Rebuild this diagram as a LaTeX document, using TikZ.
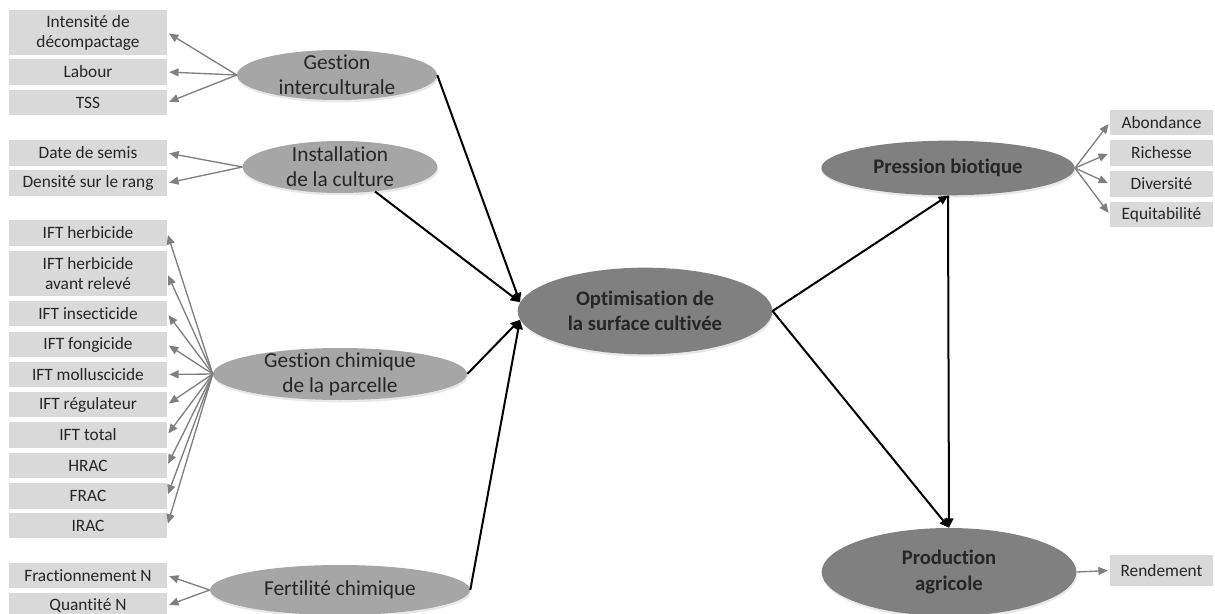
\documentclass[tikz,border=0pt]{standalone}
\usepackage{fontspec}
\setmainfont{Carlito}[Ligatures=NoCommon]
\usetikzlibrary{shapes.geometric,arrows.meta,shadows}
\definecolor{cBox}{HTML}{D9D9D9}
\definecolor{cEllLight}{HTML}{A6A6A6}
\definecolor{cEllDark}{HTML}{808080}
\definecolor{cArr}{HTML}{7F7F7F}
\definecolor{cTxt}{HTML}{262626}
\begin{document}
\begin{tikzpicture}[x=0.75pt,y=-0.75pt,
  lbox/.style={fill=cBox, minimum width=118.5pt, minimum height=19pt, inner sep=0pt,
    font=\fontsize{13}{15}\selectfont, text=cTxt, align=center},
  lboxtall/.style={lbox, minimum height=33.75pt},
  rbox/.style={lbox, minimum width=77.25pt},
  ellbase/.style={ellipse, inner sep=0pt, draw=none,
    drop shadow={shadow xshift=0.6pt, shadow yshift=-1.8pt, opacity=0.18}},
  elllight/.style={ellbase, fill=cEllLight},
  elldark/.style={ellbase, fill=cEllDark},
  ltext/.style={font=\fontsize{16}{18.75}\selectfont, text=cTxt, align=center, inner sep=0pt},
  rtext/.style={font=\bfseries\fontsize{15.5}{19}\selectfont, text=cTxt, align=center, inner sep=0pt},
  garrow/.style={draw=cArr, line width=1pt, -{Triangle[length=7pt,width=6pt]}, shorten >=1.5pt},
  barrow/.style={draw=black, line width=1.5pt, -{Triangle[length=7pt,width=6.5pt]}}
]
\useasboundingbox (0,0) rectangle (1215,614);

% left boxes
\node[lboxtall] (b1) at (88,32.5) {Intensité de\\décompactage};
\node[lbox] (b2) at (88,72) {Labour};
\node[lbox] (b3) at (88,102.5) {TSS};
\node[lbox] (b4) at (88,153) {Date de semis};
\node[lbox] (b5) at (88,183) {Densité sur le rang};
\node[lbox] (b6) at (88,233) {IFT herbicide};
\node[lboxtall] (b7) at (88,273.5) {IFT herbicide\\avant relevé};
\node[lbox] (b8) at (88,313.5) {IFT insecticide};
\node[lbox] (b9) at (88,344.5) {IFT fongicide};
\node[lbox] (b10) at (88,374.5) {IFT molluscicide};
\node[lbox] (b11) at (88,404.5) {IFT régulateur};
\node[lbox] (b12) at (88,435) {IFT total};
\node[lbox] (b13) at (88,465.5) {HRAC};
\node[lbox] (b14) at (88,496) {FRAC};
\node[lbox] (b15) at (88,525.5) {IRAC};
\node[lbox] (b16) at (88,575.5) {Fractionnement N};
\node[lbox] (b17) at (88,605.5) {Quantité N};

% right boxes
\node[rbox] (r1) at (1161.5,122.5) {Abondance};
\node[rbox] (r2) at (1161.5,153) {Richesse};
\node[rbox] (r3) at (1161.5,184) {Diversité};
\node[rbox] (r4) at (1161.5,214.5) {Equitabilité};
\node[rbox, minimum height=23pt] (r5) at (1161.5,570.5) {Rendement};

% ellipses
\node[elllight, minimum width=150pt, minimum height=37.5pt] (gi) at (337,75) {};
\node[ltext] (gi-t) at (337,75) {Gestion\\interculturale};
\node[elllight, minimum width=146pt, minimum height=39pt] (ic) at (340,167) {};
\node[ltext] (ic-t) at (340,167) {Installation\\de la culture};
\node[elllight, minimum width=190.5pt, minimum height=39pt] (gc) at (340,374) {};
\node[ltext] (gc-t) at (340,374) {Gestion chimique\\de la parcelle};
\node[elllight, minimum width=195pt, minimum height=37.5pt] (fc) at (340,590) {};
\node[ltext] (fc-t) at (340,590) {Fertilité chimique};
\node[elldark, minimum width=191pt, minimum height=65pt] (opt) at (645,311) {};
\node[rtext] (opt-t) at (645,311) {Optimisation de\\la surface cultivée};
\node[elldark, minimum width=190pt, minimum height=41pt] (pb) at (948,168) {};
\node[rtext] (pb-t) at (948,168) {Pression biotique};
\node[elldark, minimum width=191pt, minimum height=66pt] (pa) at (949,572) {};
\node[rtext] (pa-t) at (949,572) {Production\\agricole};

% gray arrows to indicators
\foreach \b in {b1,b2,b3} \draw[garrow] (gi.west) -- (\b.east);
\foreach \b in {b4,b5} \draw[garrow] (ic.west) -- (\b.east);
\foreach \b in {b6,b7,b8,b9,b10,b11,b12,b13,b14,b15} \draw[garrow] (gc.west) -- (\b.east);
\foreach \b in {b16,b17} \draw[garrow] (fc.west) -- (\b.east);
\foreach \b in {r1,r2,r3,r4} \draw[garrow] (pb.east) -- (\b.west);
\draw[garrow] (pa.east) -- (r5.west);

% black structural arrows
\draw[barrow] (gi.east) -- (opt.176);
\draw[barrow] (ic.-35) -- (opt.176);
\draw[barrow] (gc.east) -- (opt.184);
\draw[barrow] (fc.east) -- (opt.184);
\draw[barrow] (opt.east) -- (pb.south);
\draw[barrow] (opt.east) -- (pa.north);
\draw[barrow] (pb.south) -- (pa.north);
\end{tikzpicture}
\end{document}
